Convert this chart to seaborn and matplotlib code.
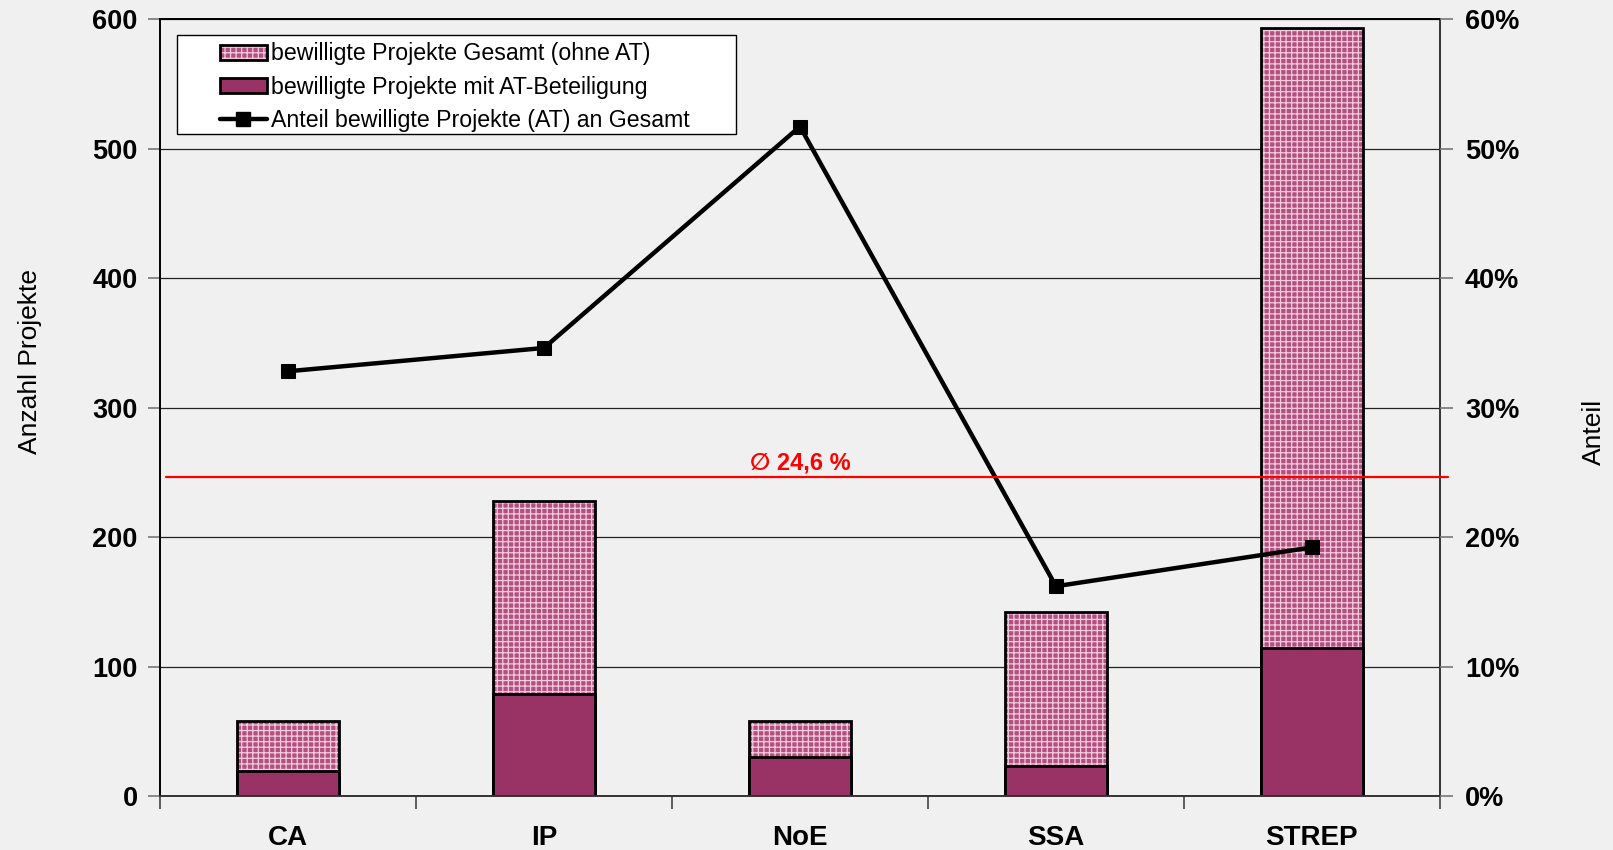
import numpy as np
import pandas as pd
import matplotlib
matplotlib.use("Agg")
import matplotlib.pyplot as plt
import matplotlib.patches as mpatches
from matplotlib.lines import Line2D
from matplotlib.legend_handler import HandlerTuple
from matplotlib.ticker import FixedLocator, FuncFormatter
import seaborn as sns

# --- data -------------------------------------------------------------
categories = ["CA", "IP", "NoE", "SSA", "STREP"]
total_projects = [58, 228, 58, 142, 593]        # bewilligte Projekte gesamt
at_projects = [19, 79, 30, 23, 114]             # davon mit AT-Beteiligung
at_share_pct = [32.8, 34.6, 51.7, 16.2, 19.2]   # Anteil AT an Gesamt in %
mean_share_pct = 24.6

legend_labels = [
    "bewilligte Projekte Gesamt (ohne AT)",
    "bewilligte Projekte mit AT-Beteiligung",
    "Anteil bewilligte Projekte (AT) an Gesamt",
]

# --- styling ----------------------------------------------------------
BG = "#F0F0F0"
SOLID = "#993366"
DOTTED_BASE = "#B3507F"
DOTTED_INK = "#F3CCE0"

sns.set_theme(style="white")
plt.rcParams["font.family"] = ["Liberation Sans", "DejaVu Sans"]
plt.rcParams["hatch.linewidth"] = 0.9
for key in ["text.color", "axes.labelcolor", "xtick.labelcolor",
            "ytick.labelcolor"]:
    plt.rcParams[key] = "black"

df = pd.DataFrame({
    "cat": categories,
    "total": total_projects,
    "at": at_projects,
    "pos": np.arange(len(categories)),
    "share": at_share_pct,
})

fig = plt.figure(figsize=(16.13, 8.5), dpi=100, facecolor=BG)
ax = fig.add_axes([0.0992, 0.0635, 0.7935, 0.9141])
ax.set_facecolor(BG)

# grid behind the bars
ax.set_axisbelow(True)
ax.yaxis.grid(True, color="#222222", linewidth=0.9)

bar_w = 0.40
# full height (dotted), then the AT part on top of it, then black outlines
sns.barplot(data=df, x="cat", y="total", ax=ax, color=DOTTED_BASE,
            edgecolor=DOTTED_INK, linewidth=0, hatch="+++", width=bar_w,
            saturation=1, errorbar=None)
sns.barplot(data=df, x="cat", y="total", ax=ax, color="black", fill=False,
            linewidth=2.0, width=bar_w, saturation=1, errorbar=None)
sns.barplot(data=df, x="cat", y="at", ax=ax, color=SOLID, edgecolor="black",
            linewidth=2.0, width=bar_w, saturation=1, errorbar=None)

ax.set_xlim(-0.5, len(categories) - 0.5)
ax.set_ylim(0, 600)
ax.set_yticks(np.arange(0, 601, 100))
ax.set_xlabel("")
ax.set_ylabel("Anzahl Projekte", fontsize=19, labelpad=36, color="black")
ax.yaxis.label.set_y(0.559)

ax.set_xticks(np.arange(len(categories)))
ax.set_xticklabels(categories, fontsize=20, fontweight="bold")
ax.xaxis.set_minor_locator(FixedLocator(np.arange(-0.5, len(categories), 1.0)))
ax.tick_params(axis="x", which="major", length=0, pad=21, labelcolor="black")
ax.tick_params(axis="x", which="minor", bottom=True, length=9, width=1.2,
               color="#444444")
ax.tick_params(axis="y", left=True, length=9, width=1.2, color="#777777",
               labelsize=19.5, pad=7, labelcolor="black")
for lab in ax.get_yticklabels():
    lab.set_fontweight("bold")

for side in ["left", "top"]:
    ax.spines[side].set_color("black")
    ax.spines[side].set_linewidth(1.4)
for side in ["right", "bottom"]:
    ax.spines[side].set_color("#333333")
    ax.spines[side].set_linewidth(1.4)

# --- share on the secondary axis -------------------------------------
ax2 = ax.twinx()
sns.lineplot(data=df, x="pos", y="share", ax=ax2, color="black",
             linewidth=3.2, marker="s", markersize=10, markeredgecolor="black")
ax2.set_ylim(0, 60)
ax2.set_yticks(np.arange(0, 61, 10))
ax2.yaxis.set_major_formatter(FuncFormatter(lambda v, _: f"{v:.0f}%"))
ax2.tick_params(axis="y", right=True, length=9, width=1.2, color="#777777",
                labelsize=19.5, pad=9, labelcolor="black")
for lab in ax2.get_yticklabels():
    lab.set_fontweight("bold")
ax2.set_ylabel("Anteil", fontsize=19, rotation=90, labelpad=45, color="black")
ax2.yaxis.label.set_y(0.468)
ax2.set_xlabel("")
for s in ax2.spines.values():
    s.set_visible(False)

# average share
ax2.axhline(mean_share_pct, xmin=0.005, xmax=1.0066, color="red",
            linewidth=1.6, clip_on=False)
ax2.text(0.5, mean_share_pct + 0.25, "\u2205 24,6 %",
         transform=ax2.get_yaxis_transform(), ha="center", va="bottom",
         color="red", fontsize=17, fontweight="bold",
         family=["Liberation Sans", "DejaVu Sans"])

# --- legend -----------------------------------------------------------
legend_box = mpatches.Rectangle((0.0133, 0.852), 0.4367, 0.1274,
                                transform=ax2.transAxes, facecolor="white",
                                edgecolor="black", linewidth=1.0, zorder=4)
ax2.add_patch(legend_box)

h_dotted = (mpatches.Patch(facecolor=DOTTED_BASE, edgecolor=DOTTED_INK,
                           hatch="+++", linewidth=0),
            mpatches.Patch(facecolor="none", edgecolor="black", linewidth=2.0))
h_solid = mpatches.Patch(facecolor=SOLID, edgecolor="black", linewidth=2.0)
h_line = Line2D([], [], color="black", linewidth=3.2, marker="s",
                markersize=10)
leg = ax2.legend([h_dotted, h_solid, h_line], legend_labels,
                 handler_map={tuple: HandlerTuple(ndivide=1, pad=0)},
                 loc="upper left", bbox_to_anchor=(0.047, 0.970),
                 borderaxespad=0, borderpad=0, fontsize=16.7, frameon=False,
                 handlelength=2.0, handleheight=0.6, handletextpad=0.2,
                 labelspacing=0.45, labelcolor="black")
leg.set_zorder(5)

fig.savefig("out.png", dpi=100, facecolor=BG)
